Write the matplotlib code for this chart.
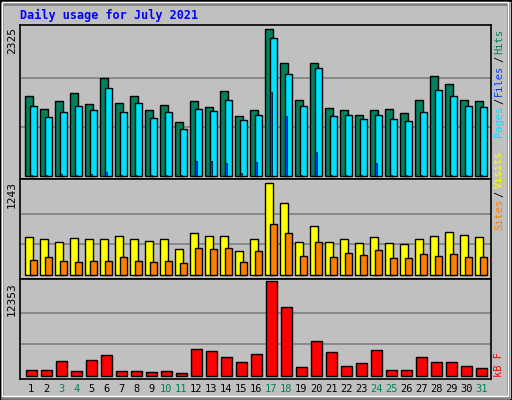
import numpy as np
import matplotlib.pyplot as plt
from matplotlib.patches import Rectangle

days = list(range(1, 32))
weekend_days = [3, 4, 10, 11, 17, 18, 24, 25, 31]

hits = [1268, 1067, 1191, 1315, 1144, 1562, 1160, 1268, 1052, 1129, 851, 1191, 1098, 1345, 959, 1052,
        2325, 1794, 1206, 1794, 1083, 1052, 974, 1052, 1067, 1005, 1206, 1593, 1454, 1206, 1191]
files = [1114, 943, 1021, 1114, 1052, 1392, 1021, 1160, 928, 1021, 742, 1067, 1036, 1206, 881, 974,
         2196, 1624, 1114, 1717, 959, 974, 897, 974, 912, 866, 1021, 1361, 1268, 1114, 1098]
pages = [20, 20, 36, 20, 36, 62, 20, 20, 20, 20, 20, 232, 232, 201, 46, 216,
         1330, 959, 20, 387, 20, 20, 20, 201, 20, 20, 20, 20, 20, 20, 20]
visits = [516, 489, 449, 503, 489, 489, 530, 489, 462, 489, 354, 570, 530, 530, 328, 489,
          1243, 974, 449, 664, 449, 489, 435, 516, 435, 422, 489, 530, 583, 543, 516]
sites = [211, 247, 193, 179, 193, 193, 247, 193, 179, 193, 166, 368, 354, 368, 179, 328,
         691, 570, 260, 449, 247, 301, 274, 341, 233, 233, 287, 260, 287, 247, 247]
kbytes = [857, 857, 1938, 721, 2074, 2750, 721, 721, 586, 721, 451, 3561, 3291, 2479, 1803, 2885,
          12353, 8971, 1127, 4508, 3156, 1262, 1668, 3426, 857, 857, 2479, 1803, 1803, 1262, 992]

BG = '#C0C0C0'
W, H = 512, 400
fig = plt.figure(figsize=(5.12, 4.0), dpi=100, facecolor=BG)

# bevelled border
fig.patches.append(Rectangle((0, 0), 1, 1, transform=fig.transFigure, fill=False, ec='black', lw=2))
fig.patches.append(Rectangle((2 / W, 2 / H), 1 - 6 / W, 1 - 6 / H, transform=fig.transFigure,
                             fill=False, ec='#808080', lw=2))
fig.patches.append(Rectangle((2 / W, 4 / H), 1 - 6 / W, 1 - 6 / H, transform=fig.transFigure,
                             fill=False, ec='white', lw=1))


def panel(top, bottom):
    ax = fig.add_axes([20 / W, 1 - bottom / H, 471 / W, (bottom - top) / H])
    ax.set_facecolor(BG)
    ax.set_xlim(0.447, 31.847)
    ax.set_xticks([])
    ax.set_yticks([])
    for s in ax.spines.values():
        s.set_color('black')
        s.set_linewidth(1.2)
    return ax


mono = 'DejaVu Sans Mono'

# top panel: hits / files / pages
ax1 = panel(25, 179)
m1 = max(hits)
ax1.set_ylim(-m1 * 0.02, m1 * 1.03)
for g in (m1 / 3, 2 * m1 / 3):
    ax1.axhline(g, color='#808080', lw=1.2, zorder=0)
x = np.array(days)
ax1.bar(x - 0.2, hits, width=0.5, align='edge', color='#00805C', ec='black', lw=1, zorder=2)
ax1.bar(x + 0.09, files, width=0.47, align='edge', color='#00E0FF', ec='black', lw=1, zorder=3)
ax1.bar(x + 0.09, pages, width=0.13, align='edge', color='#0040FF', ec='black', lw=0.5, zorder=4)

# middle panel: visits / sites
ax2 = panel(179, 279)
m2 = max(visits)
ax2.set_ylim(-m2 * 0.04, m2 * 1.04)
for g in (m2 / 3, 2 * m2 / 3):
    ax2.axhline(g, color='#808080', lw=1.2, zorder=0)
ax2.bar(x - 0.2, visits, width=0.5, align='edge', color='#FFFF00', ec='black', lw=1, zorder=2)
ax2.bar(x + 0.09, sites, width=0.47, align='edge', color='#FF8000', ec='black', lw=1, zorder=3)

# bottom panel: kB
ax3 = panel(279, 379)
m3 = max(kbytes)
ax3.set_ylim(-m3 * 0.03, m3 * 1.02)
for g in (m3 / 3, 2 * m3 / 3):
    ax3.axhline(g, color='#808080', lw=1.2, zorder=0)
ax3.bar(x - 0.13, kbytes, width=0.68, align='edge', color='#FF0000', ec='black', lw=1, zorder=2)

# day labels
for d in days:
    c = '#00805C' if d in weekend_days else 'black'
    fig.text((20 + (d + 0.2 - 0.447) * 15) / W, 1 - 389 / H, str(d), color=c,
             ha='center', va='center', fontsize=7.5, family=mono)

# max labels on the left
for txt, ytop in (('2325', 27), ('1243', 181), ('12353', 282)):
    fig.text(12 / W, 1 - ytop / H, txt, rotation=90, ha='center', va='top', fontsize=8, family=mono)

fig.text(20 / W, 1 - 15 / H, 'Daily usage for July 2021', color='#0000FF', fontsize=8.5,
         fontweight='bold', family=mono, va='center')

renderer = fig.canvas.get_renderer()


def side_label(parts, ybottom):
    # stack coloured pieces upward, measuring each rendered piece
    y = ybottom
    for txt, col in parts:
        t = fig.text(499 / W, 1 - y / H, txt.strip(), rotation=90, color=col, ha='center',
                     va='bottom', fontsize=7.5, family=mono)
        h = t.get_window_extent(renderer).height
        y -= h + 2


side_label([('Pages', '#00E0FF'), ('/', '#000000'), ('Files', '#0040FF'),
            ('/', '#000000'), ('Hits', '#00805C')], 137)
side_label([('Sites', '#FF8000'), ('/', '#000000'), ('Visits', '#FFFF00')], 230)
side_label([('kB F', '#FF0000')], 377)

fig.savefig('out.png', dpi=100, facecolor=BG)
